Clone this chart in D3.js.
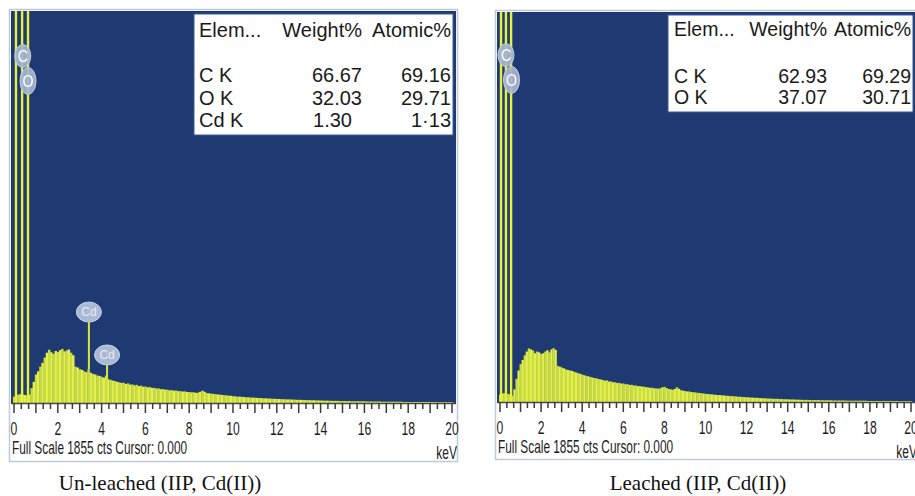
<!DOCTYPE html>
<html>
<head>
<meta charset="utf-8">
<script src="https://cdn.jsdelivr.net/npm/d3@7"></script>
<style>
body { margin: 0; background: #fff; }
svg { display: block; }
.narrow { font-family: "Liberation Sans", Arial, sans-serif; fill: #1c1c1c; }
.tbl { font-family: "Liberation Sans", Arial, sans-serif; fill: #1a1a1a; }
.cap { font-family: "Liberation Serif", "Times New Roman", serif; fill: #111; }
</style>
</head>
<body>
<div id="chart"></div>
<script>
// spectra: counts per 0.1 keV channel, 0 to 20 keV
var channelWidth = 0.1;
var fullScale = 1855;
var fullScaleText = "Full Scale 1855 cts Cursor: 0.000";
var axisUnit = "keV";

var unleachedCounts = [
  30,35,40,42,40,38,35,40,70,100,
  135,150,172,190,215,238,252,240,233,246,
  241,250,256,244,249,253,238,226,172,168,
  160,157,150,146,160,143,138,135,130,128,
  124,120,130,112,110,106,104,100,98,95,
  96,90,93,87,88,83,86,80,82,77,
  78,74,76,71,72,68,69,65,66,63,
  63,60,61,58,59,56,56,54,55,52,
  52,50,51,48,49,53,58,53,47,46,
  44,43,42,40,40,38,37,36,35,34,
  32,31,30,30,29,28,27,27,26,25,
  25,24,24,23,22,22,21,21,20,20,
  19,19,18,18,17,17,17,16,16,15,
  15,15,14,14,14,13,13,13,12,12,
  12,11,11,11,11,10,10,10,10,9,
  9,9,9,9,8,8,8,8,8,8,
  8,7,7,7,7,7,7,7,6,6,
  6,6,6,6,6,6,6,6,5,5,
  5,5,5,5,5,5,5,5,5,5,
  5,5,5,4,4,4,4,4,4,4,
  4
];

var leachedCounts = [
  35,40,42,40,38,35,30,60,110,150,
  180,200,222,240,255,250,245,232,240,236,
  228,232,240,246,236,250,256,248,172,168,
  164,160,155,152,150,148,144,140,137,134,
  130,127,124,122,119,116,114,112,109,107,
  105,101,103,97,98,93,94,90,91,87,
  88,84,85,81,82,78,79,75,76,73,
  73,70,70,67,68,65,65,63,66,70,
  72,66,62,60,58,62,70,63,56,54,
  52,50,50,47,47,45,44,43,42,40,
  39,38,37,36,35,34,33,33,32,31,
  30,29,28,28,27,26,25,25,24,23,
  23,22,21,21,20,20,19,18,18,17,
  17,16,16,15,15,15,14,14,13,13,
  13,12,12,12,11,11,11,10,10,10,
  10,9,9,9,9,9,8,8,8,8,
  8,8,7,7,7,7,7,7,7,6,
  6,6,6,6,6,6,6,6,6,5,
  5,5,5,5,5,5,5,5,5,5,
  5,5,5,5,4,4,4,4,4,4,
  4
];

// off-scale low energy lines (keV)
var unleachedLines = [0.09, 0.37, 0.64];
var leachedLines = [0.05, 0.29, 0.54];

// element markers: label, energy (keV), marker height (cts)
var unleachedMarkerLabels = ["C", "O", "Cd", "Cd"];
var unleachedMarkerEnergies = [0.40, 0.64, 3.42, 4.25];
var unleachedMarkerCounts = [1642, 1524, 383, 180];
var leachedMarkerLabels = ["C", "O"];
var leachedMarkerEnergies = [0.29, 0.56];
var leachedMarkerCounts = [1650, 1532];

// quantification tables
var tableHeader = ["Elem...", "Weight%", "Atomic%"];
var unleachedElements = ["C K", "O K", "Cd K"];
var unleachedWeight = ["66.67", "32.03", "1.30"];
var unleachedAtomic = ["69.16", "29.71", "1\u00b713"];
var leachedElements = ["C K", "O K"];
var leachedWeight = ["62.93", "37.07"];
var leachedAtomic = ["69.29", "30.71"];

var captions = ["Un-leached (IIP, Cd(II))", "Leached (IIP, Cd(II))"];

var panels = [
  {
    frame: {x: 9.5, y: 9.5, w: 448, h: 452},
    plot: {l: 11, r: 456, t: 11, b: 403},
    xr: [14, 452],
    counts: unleachedCounts, lines: unleachedLines,
    labels: unleachedMarkerLabels, energies: unleachedMarkerEnergies, mcounts: unleachedMarkerCounts,
    table: {x: 194, y: 14, w: 259, h: 121, cols: [199, 362, 451], headY: 37, rowY: 82, dy: 22.5, fs: 20,
            el: unleachedElements, wt: unleachedWeight, at: unleachedAtomic},
    caption: captions[0], capX: 160
  },
  {
    frame: {x: 495.5, y: 10.5, w: 424, h: 449},
    plot: {l: 497, r: 916, t: 12, b: 402},
    xr: [500, 911],
    counts: leachedCounts, lines: leachedLines,
    labels: leachedMarkerLabels, energies: leachedMarkerEnergies, mcounts: leachedMarkerCounts,
    table: {x: 668, y: 15, w: 245, h: 97, cols: [674, 827, 911], headY: 36, rowY: 83, dy: 21, fs: 19.5,
            el: leachedElements, wt: leachedWeight, at: leachedAtomic},
    caption: captions[1], capX: 698
  }
];

var svg = d3.select("#chart").append("svg")
    .attr("width", 915)
    .attr("height", 496);

panels.forEach(function(p, pi) {
  var x = d3.scaleLinear().domain([0, 20]).range(p.xr);
  var y = d3.scaleLinear().domain([0, fullScale]).range([p.plot.b, p.plot.t]);
  var g = svg.append("g");

  // panel frame
  g.append("rect")
      .attr("x", p.frame.x).attr("y", p.frame.y)
      .attr("width", p.frame.w).attr("height", p.frame.h)
      .attr("fill", "#fff")
      .attr("stroke", "#bfcad8")
      .attr("stroke-width", 1.5);

  var clipId = "clip" + pi;
  svg.append("clipPath").attr("id", clipId)
    .append("rect")
      .attr("x", p.plot.l).attr("y", p.plot.t)
      .attr("width", p.plot.r - p.plot.l).attr("height", p.plot.b - p.plot.t);

  g.append("rect")
      .attr("x", p.plot.l).attr("y", p.plot.t)
      .attr("width", p.plot.r - p.plot.l).attr("height", p.plot.b - p.plot.t)
      .attr("fill", "#1f3a72");

  var inner = g.append("g").attr("clip-path", "url(#" + clipId + ")");

  // spectrum bars
  inner.selectAll("rect.bar")
      .data(p.counts)
      .enter().append("rect")
      .attr("class", "bar")
      .attr("x", function(d, i) { return x(i * channelWidth - channelWidth / 2); })
      .attr("width", x(channelWidth) - x(0) + 0.3)
      .attr("y", function(d) { return y(d); })
      .attr("height", function(d) { return p.plot.b - y(d); })
      .attr("fill", function(d, i) { return i % 2 ? "#e3ee5c" : "#cadd34"; });

  // off-scale C / O lines
  inner.selectAll("line.pk")
      .data(p.lines)
      .enter().append("line")
      .attr("class", "pk")
      .attr("x1", function(d) { return x(d); })
      .attr("x2", function(d) { return x(d); })
      .attr("y1", p.plot.t)
      .attr("y2", p.plot.b)
      .attr("stroke", "#e6f03e")
      .attr("stroke-width", 2.4);

  // axis
  g.append("line")
      .attr("x1", p.plot.l).attr("x2", p.plot.r)
      .attr("y1", p.plot.b + 0.5).attr("y2", p.plot.b + 0.5)
      .attr("stroke", "#4a4a4a").attr("stroke-width", 1.5);

  var ticks = d3.range(61).map(function(i) { return i / 3; });
  g.selectAll("line.tk" + pi)
      .data(ticks)
      .enter().append("line")
      .attr("class", "tk" + pi)
      .attr("x1", function(d) { return x(d); })
      .attr("x2", function(d) { return x(d); })
      .attr("y1", p.plot.b)
      .attr("y2", function(d, i) { return p.plot.b + (i % 3 === 0 ? 10 : 6); })
      .attr("stroke", "#3a3a3a")
      .attr("stroke-width", 1.5);

  g.selectAll("text.tl" + pi)
      .data(x.ticks(10))
      .enter().append("text")
      .attr("class", "narrow")
      .attr("text-anchor", "middle")
      .attr("font-size", 16)
      .attr("transform", function(d) { return "translate(" + x(d) + "," + (p.plot.b + 32) + ") scale(0.76,1.2)"; })
      .text(function(d) { return d; });

  g.append("text")
      .attr("class", "narrow")
      .attr("font-size", 15)
      .attr("transform", "translate(" + (p.plot.l + 1) + "," + (p.plot.b + 51) + ") scale(0.79,1.22)")
      .text(fullScaleText);

  g.append("text")
      .attr("class", "narrow")
      .attr("font-size", 15)
      .attr("text-anchor", "end")
      .attr("transform", "translate(" + (p.plot.r + 1) + "," + (p.plot.b + 56) + ") scale(0.8,1.2)")
      .text(axisUnit);

  // element markers
  p.labels.forEach(function(lab, k) {
    var e = p.energies[k], c = p.mcounts[k];
    if (lab === "Cd") {
      var base = p.counts[Math.round(e / channelWidth)];
      g.append("line")
          .attr("x1", x(e)).attr("x2", x(e))
          .attr("y1", y(c)).attr("y2", y(base))
          .attr("stroke", "#d6e640").attr("stroke-width", 2);
      g.append("ellipse")
          .attr("cx", x(e)).attr("cy", y(c) - 10)
          .attr("rx", 12.5).attr("ry", 10)
          .attr("fill", "#a9bad6").attr("stroke", "#c9d5e6").attr("stroke-width", 1);
      g.append("text")
          .attr("x", x(e)).attr("y", y(c) - 6)
          .attr("text-anchor", "middle")
          .attr("font-family", "Liberation Sans, Arial, sans-serif")
          .attr("font-size", 12)
          .attr("fill", "#f4e6ee")
          .text(lab);
    } else {
      g.append("ellipse")
          .attr("cx", x(e)).attr("cy", y(c))
          .attr("rx", 8).attr("ry", lab === "C" ? 11.5 : 13.5)
          .attr("fill", "#a6b5cf").attr("fill-opacity", 0.92)
          .attr("stroke", "#c3cee0").attr("stroke-width", 1);
      g.append("text")
          .attr("text-anchor", "middle")
          .attr("font-family", "Liberation Sans, Arial, sans-serif")
          .attr("font-size", 14)
          .attr("fill", "#fff")
          .attr("transform", "translate(" + x(e) + "," + (y(c) + 6) + ") scale(1,1.2)")
          .text(lab);
    }
  });

  // results table
  var t = p.table;
  g.append("rect")
      .attr("x", t.x).attr("y", t.y)
      .attr("width", t.w).attr("height", t.h)
      .attr("fill", "#fff")
      .attr("stroke", "#3d5a92").attr("stroke-width", 1);

  var anchors = ["start", "end", "end"];
  tableHeader.forEach(function(h, k) {
    g.append("text")
        .attr("class", "tbl")
        .attr("x", t.cols[k]).attr("y", t.headY)
        .attr("text-anchor", anchors[k])
        .attr("font-size", t.fs)
        .text(h);
  });
  t.el.forEach(function(el, r) {
    var ty = t.rowY + r * t.dy;
    [el, t.wt[r], t.at[r]].forEach(function(v, k) {
      g.append("text")
          .attr("class", "tbl")
          .attr("x", t.cols[k] - (k === 1 && v === "1.30" ? 10 : 0))
          .attr("y", ty)
          .attr("text-anchor", anchors[k])
          .attr("font-size", t.fs)
          .text(v);
    });
  });

  // caption
  svg.append("text")
      .attr("class", "cap")
      .attr("x", p.capX).attr("y", 490)
      .attr("text-anchor", "middle")
      .attr("font-size", 21)
      .text(p.caption);
});
</script>
</body>
</html>
